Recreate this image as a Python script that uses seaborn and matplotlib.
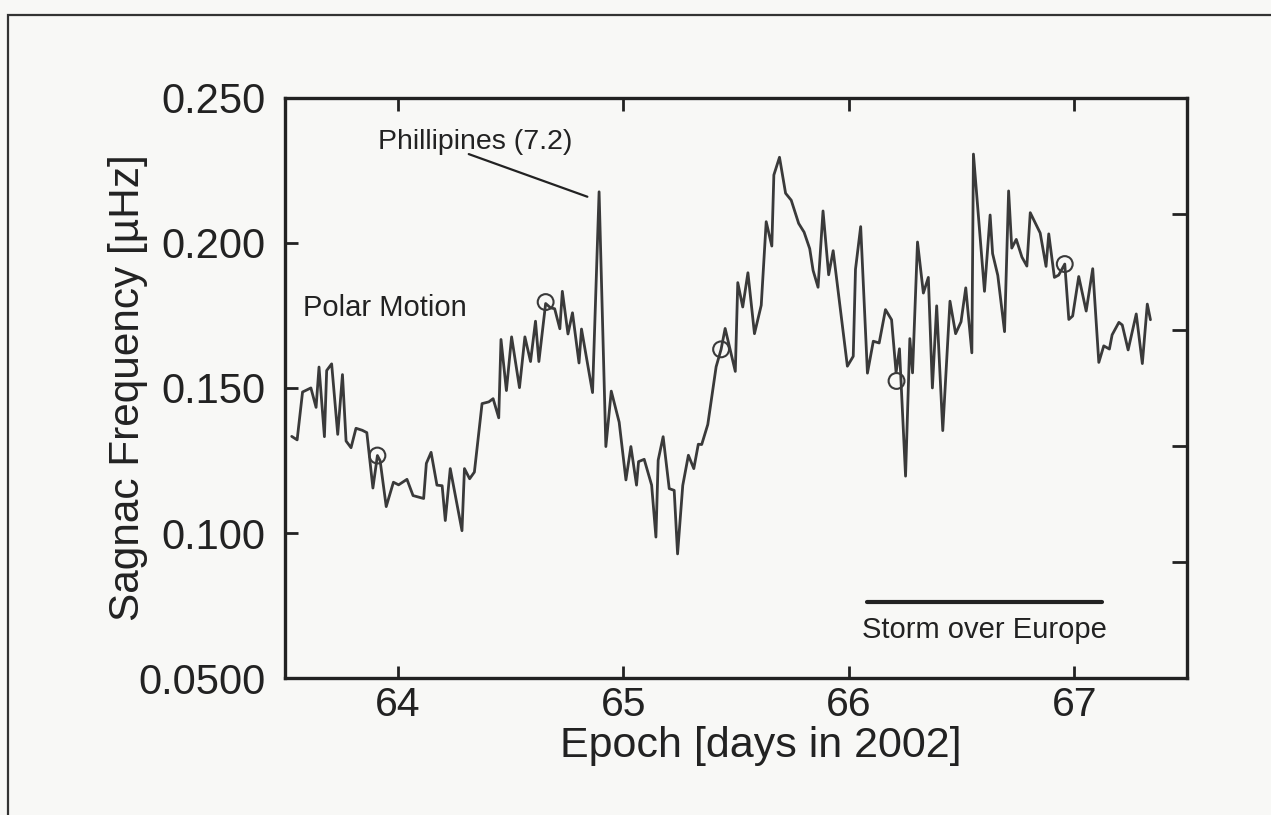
"""Sagnac frequency series, recreated with seaborn."""
import matplotlib
matplotlib.use("Agg")
import matplotlib.pyplot as plt
from matplotlib.patches import Rectangle
import pandas as pd
import seaborn as sns

# epoch in days of 2002 and the Sagnac frequency in microhertz
dias = [
    63.530, 63.554, 63.578, 63.615, 63.638, 63.651, 63.675, 63.685, 63.707, 63.734,
    63.755, 63.771, 63.793, 63.815, 63.843, 63.863, 63.890, 63.910, 63.922, 63.949,
    63.981, 64.004, 64.041, 64.068, 64.115, 64.127, 64.148, 64.174, 64.197, 64.211,
    64.233, 64.285, 64.296, 64.319, 64.340, 64.374, 64.404, 64.423, 64.448, 64.458,
    64.482, 64.505, 64.540, 64.564, 64.589, 64.611, 64.626, 64.656, 64.678, 64.696,
    64.719, 64.730, 64.755, 64.775, 64.804, 64.815, 64.864, 64.893, 64.923, 64.947,
    64.982, 65.012, 65.034, 65.059, 65.068, 65.093, 65.126, 65.145, 65.155, 65.177,
    65.204, 65.226, 65.241, 65.264, 65.289, 65.313, 65.333, 65.348, 65.375, 65.412,
    65.434, 65.452, 65.497, 65.508, 65.530, 65.553, 65.582, 65.612, 65.634, 65.659,
    65.668, 65.693, 65.720, 65.745, 65.778, 65.802, 65.827, 65.842, 65.864, 65.886,
    65.911, 65.931, 65.994, 66.020, 66.030, 66.053, 66.083, 66.109, 66.135, 66.163,
    66.190, 66.210, 66.225, 66.252, 66.271, 66.283, 66.305, 66.331, 66.353, 66.371,
    66.390, 66.417, 66.449, 66.474, 66.498, 66.519, 66.546, 66.553, 66.602, 66.627,
    66.638, 66.661, 66.691, 66.709, 66.723, 66.743, 66.768, 66.790, 66.805, 66.849,
    66.875, 66.887, 66.912, 66.931, 66.958, 66.976, 66.993, 67.020, 67.053, 67.082,
    67.109, 67.131, 67.156, 67.168, 67.198, 67.213, 67.239, 67.275, 67.302, 67.324,
    67.338,
]
frecuencia = [
    0.1333, 0.1321, 0.1486, 0.1500, 0.1433, 0.1572, 0.1332, 0.1560, 0.1583, 0.1340,
    0.1546, 0.1317, 0.1294, 0.1361, 0.1354, 0.1346, 0.1155, 0.1267, 0.1249, 0.1091,
    0.1175, 0.1166, 0.1185, 0.1129, 0.1119, 0.1240, 0.1278, 0.1165, 0.1163, 0.1043,
    0.1222, 0.1008, 0.1222, 0.1187, 0.1210, 0.1446, 0.1452, 0.1463, 0.1397, 0.1667,
    0.1491, 0.1676, 0.1501, 0.1676, 0.1591, 0.1730, 0.1591, 0.1791, 0.1776, 0.1773,
    0.1704, 0.1833, 0.1686, 0.1759, 0.1586, 0.1703, 0.1484, 0.2176, 0.1298, 0.1489,
    0.1382, 0.1183, 0.1298, 0.1165, 0.1246, 0.1254, 0.1165, 0.0986, 0.1251, 0.1332,
    0.1153, 0.1147, 0.0928, 0.1164, 0.1268, 0.1222, 0.1306, 0.1305, 0.1374, 0.1573,
    0.1633, 0.1705, 0.1557, 0.1863, 0.1779, 0.1897, 0.1687, 0.1785, 0.2073, 0.1989,
    0.2234, 0.2295, 0.2171, 0.2147, 0.2067, 0.2037, 0.1980, 0.1905, 0.1847, 0.2110,
    0.1890, 0.1973, 0.1575, 0.1609, 0.1909, 0.2056, 0.1551, 0.1661, 0.1655, 0.1770,
    0.1735, 0.1553, 0.1635, 0.1196, 0.1670, 0.1552, 0.2003, 0.1827, 0.1881, 0.1500,
    0.1783, 0.1353, 0.1799, 0.1687, 0.1728, 0.1845, 0.1621, 0.2306, 0.1833, 0.2096,
    0.1963, 0.1888, 0.1694, 0.2179, 0.1982, 0.2012, 0.1951, 0.1920, 0.2104, 0.2034,
    0.1919, 0.2031, 0.1881, 0.1889, 0.1927, 0.1736, 0.1748, 0.1884, 0.1765, 0.1911,
    0.1588, 0.1645, 0.1634, 0.1683, 0.1726, 0.1717, 0.1631, 0.1755, 0.1584, 0.1789,
    0.1735,
]

# polar motion points marked with open circles
dias_polar = [63.910, 64.656, 65.434, 66.212, 66.958]
frec_polar = [0.1267, 0.1796, 0.1633, 0.1524, 0.1927]

ticks_x = [64, 65, 66, 67]
ticks_y = [0.05, 0.10, 0.15, 0.20, 0.25]
etiquetas_y = ["0.0500", "0.100", "0.150", "0.200", "0.250"]
ticks_derecha = [0.09, 0.13, 0.17, 0.21]

tormenta = [66.083, 67.124]
tormenta_y = 0.0762

color_linea = "#3a3a3a"
color_texto = "#222222"

sns.set_theme(style="ticks")
plt.rcParams["font.family"] = ["Liberation Sans", "DejaVu Sans"]

df = pd.DataFrame({"dia": dias, "frecuencia": frecuencia})
df_polar = pd.DataFrame({"dia": dias_polar, "frecuencia": frec_polar})

fig = plt.figure(figsize=(12.71, 8.15), dpi=100, facecolor="#f8f8f6")
ax = fig.add_axes([0.2242, 0.168, 0.7097, 0.712])
ax.set_facecolor("#f8f8f6")

sns.lineplot(data=df, x="dia", y="frecuencia", ax=ax, color=color_linea,
             linewidth=2.0, estimator=None, sort=False)
sns.scatterplot(data=df_polar, x="dia", y="frecuencia", ax=ax, s=130,
                facecolor="none", edgecolor=color_linea, linewidth=1.5, zorder=3)

ax.set_xlim(63.5, 67.5)
ax.set_ylim(0.05, 0.25)
ax.set_xticks(ticks_x)
ax.set_xticklabels([str(t) for t in ticks_x])
ax.set_yticks(ticks_y)
ax.set_yticklabels(etiquetas_y)
ax.tick_params(axis="x", direction="in", length=9, width=2, labelsize=29.5,
               pad=6, top=True, color=color_texto, labelcolor=color_texto)
ax.tick_params(axis="y", direction="in", length=9, width=2, labelsize=30,
               pad=14, color=color_texto, labelcolor=color_texto)
for lado in ax.spines.values():
    lado.set_linewidth(2.4)
    lado.set_color(color_texto)

# right axis carries its own unlabelled ticks
ax2 = ax.twinx()
ax2.set_ylim(0.05, 0.25)
ax2.set_yticks(ticks_derecha)
ax2.set_yticklabels([])
ax2.tick_params(axis="y", direction="in", length=11, width=2, color=color_texto)
for lado in ax2.spines.values():
    lado.set_visible(False)

ax.set_xlabel("Epoch [days in 2002]", fontsize=31, color=color_texto)
ax.xaxis.set_label_coords(0.528, -0.082)
ax.set_ylabel("Sagnac Frequency [µHz]", fontsize=30.5, color=color_texto)
ax.yaxis.set_label_coords(-0.152, 0.5)

ax.text(63.944, 0.1774, "Polar Motion", fontsize=21, ha="center", va="center",
        color=color_texto)
ax.text(64.345, 0.2346, "Phillipines (7.2)", fontsize=20.5, ha="center",
        va="center", color=color_texto)
ax.plot([64.315, 64.841], [0.2306, 0.2159], color=color_texto, linewidth=1.6)
ax.plot(tormenta, [tormenta_y, tormenta_y], color=color_texto, linewidth=3,
        solid_capstyle="round")
ax.text(sum(tormenta) / 2, 0.0665, "Storm over Europe", fontsize=21,
        ha="center", va="center", color=color_texto)

# outer frame of the scanned figure
fig.add_artist(Rectangle((0.0063, -0.1), 1.2, 1.082, transform=fig.transFigure,
                         fill=False, edgecolor="#333333", linewidth=1.6,
                         clip_on=False))

fig.savefig("out.png", dpi=100, facecolor=fig.get_facecolor())
